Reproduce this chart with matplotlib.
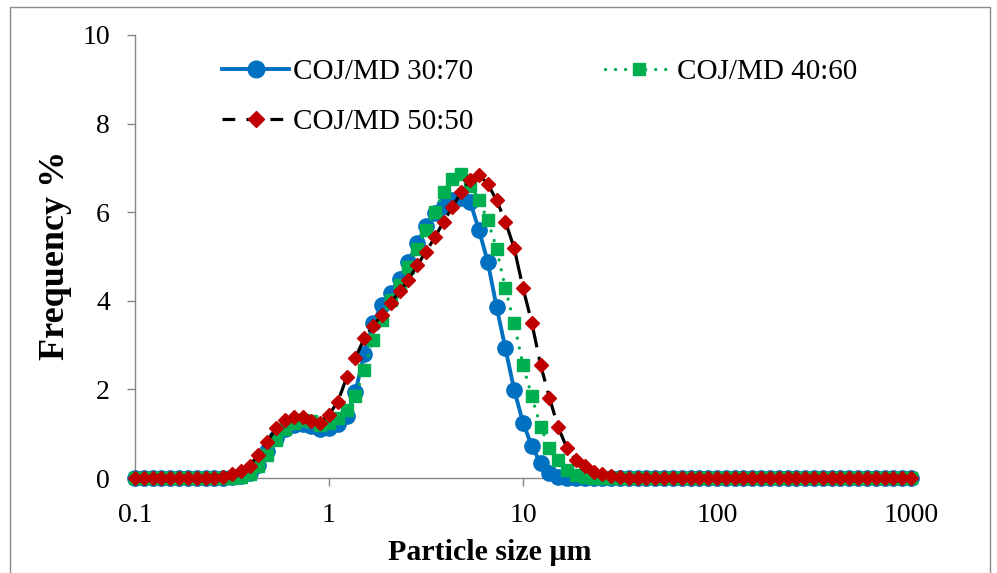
import numpy as np
import matplotlib
matplotlib.use('Agg')
import matplotlib.pyplot as plt
from matplotlib.lines import Line2D
from matplotlib.patches import Rectangle
from matplotlib.ticker import NullLocator

plt.rcParams['font.family'] = ['Liberation Serif', 'DejaVu Serif']

# particle size bins (um), evenly spaced on a log scale from 0.1 to 1000
sizes = np.logspace(-1, 3, 89)

# frequency %
freq_30_70 = [0] * 11 + [
    0.02, 0.05, 0.12, 0.30, 0.60, 0.90, 1.10, 1.20, 1.22, 1.18,
    1.10, 1.12, 1.22, 1.40, 1.95, 2.80, 3.49, 3.91, 4.18, 4.50,
    4.88, 5.30, 5.68, 5.98, 6.15, 6.27, 6.33, 6.24, 5.60, 4.88,
    3.87, 2.93, 1.99, 1.25, 0.72, 0.33, 0.11, 0.03] + [0] * 40

freq_40_60 = [0] * 12 + [
    0.03, 0.10, 0.28, 0.52, 0.85, 1.10, 1.25, 1.32, 1.28, 1.20,
    1.25, 1.36, 1.53, 1.84, 2.44, 3.12, 3.57, 4.02, 4.36, 4.77,
    5.18, 5.60, 6.01, 6.46, 6.75, 6.86, 6.60, 6.27, 5.82, 5.18,
    4.28, 3.49, 2.55, 1.84, 1.16, 0.67, 0.41, 0.18, 0.07, 0.02] + [0] * 37

freq_50_50 = [0] * 10 + [
    0.03, 0.08, 0.16, 0.28, 0.52, 0.82, 1.12, 1.31, 1.38, 1.38,
    1.28, 1.25, 1.43, 1.72, 2.27, 2.72, 3.15, 3.44, 3.68, 3.96,
    4.21, 4.47, 4.80, 5.11, 5.43, 5.79, 6.12, 6.45, 6.73, 6.84,
    6.64, 6.27, 5.79, 5.19, 4.29, 3.50, 2.55, 1.81, 1.14, 0.67,
    0.41, 0.26, 0.14, 0.09, 0.05, 0.03, 0.01] + [0] * 32

labels = ['COJ/MD 30:70', 'COJ/MD 40:60', 'COJ/MD 50:50']
xticks = [0.1, 1, 10, 100, 1000]
xtick_labels = ['0.1', '1', '10', '100', '1000']
yticks = [0, 2, 4, 6, 8, 10]

blue = '#0070C0'
green = '#00B050'
red = '#C00000'
grey = '#868686'

fig = plt.figure(figsize=(9.97, 5.73), dpi=100)
ax = fig.add_axes([135 / 997, 1 - 478 / 573, (911 - 135) / 997, (478 - 35) / 573])

ax.plot(sizes, freq_30_70, color=blue, lw=2.8, marker='o', ms=11,
        clip_on=False, zorder=3)
ax.plot(sizes, freq_40_60, color=green, lw=2.4, ls=(0, (0.01, 3)),
        dash_capstyle='round', marker='s', ms=8.5, clip_on=False, zorder=4)
ax.plot(sizes, freq_50_50, color='black', lw=2.3, dashes=(8, 3),
        marker='D', mfc=red, mec=red, ms=7.5, clip_on=False, zorder=5)

ax.set_xscale('log')
ax.set_xlim(0.1, 1000)
ax.set_ylim(0, 10)
ax.set_xticks(xticks)
ax.set_xticklabels(xtick_labels)
ax.xaxis.set_minor_locator(NullLocator())
ax.set_yticks(yticks)

for s in ['top', 'right']:
    ax.spines[s].set_visible(False)
for s in ['left', 'bottom']:
    ax.spines[s].set_color(grey)
    ax.spines[s].set_linewidth(1)
ax.tick_params(direction='out', length=6, width=1, color=grey, labelsize=20)
ax.tick_params(axis='y', pad=12)
ax.tick_params(axis='x', pad=12)

# legend handles (Excel draws shorter dashes in the legend)
h1 = Line2D([], [], color=blue, lw=2.8, marker='o', ms=12)
h2 = Line2D([], [], color=green, lw=2.4, ls=(0, (0.01, 3)),
            dash_capstyle='round', marker='s', ms=9)
h3 = Line2D([], [], color='black', lw=2.3, dashes=(4, 3.5),
            marker='D', mfc=red, mec=red, ms=8)
ax.legend([h1, h3, h2], [labels[0], labels[2], labels[1]], ncol=2,
          loc='upper left', bbox_to_anchor=(222 / 997, 1 - 59 / 573),
          bbox_transform=fig.transFigure, frameon=False, fontsize=21,
          handlelength=2.3, handletextpad=0.15, columnspacing=4.5,
          labelspacing=0.8, borderpad=0, borderaxespad=0)

fig.text(55 / 997, 1 - 255 / 573, 'Frequency %', rotation=90, fontsize=26,
         fontweight='bold', ha='center', va='center')
fig.text(490 / 997, 1 - 553 / 573, 'Particle size µm', fontsize=21.5,
         fontweight='bold', ha='center', va='center')

fig.patches.append(Rectangle((10 / 997, -0.02), 980 / 997, 1.02 - 7 / 573,
                             transform=fig.transFigure, fill=False,
                             ec='#8c8c8c', lw=1))

fig.savefig('out.png', dpi=100)
